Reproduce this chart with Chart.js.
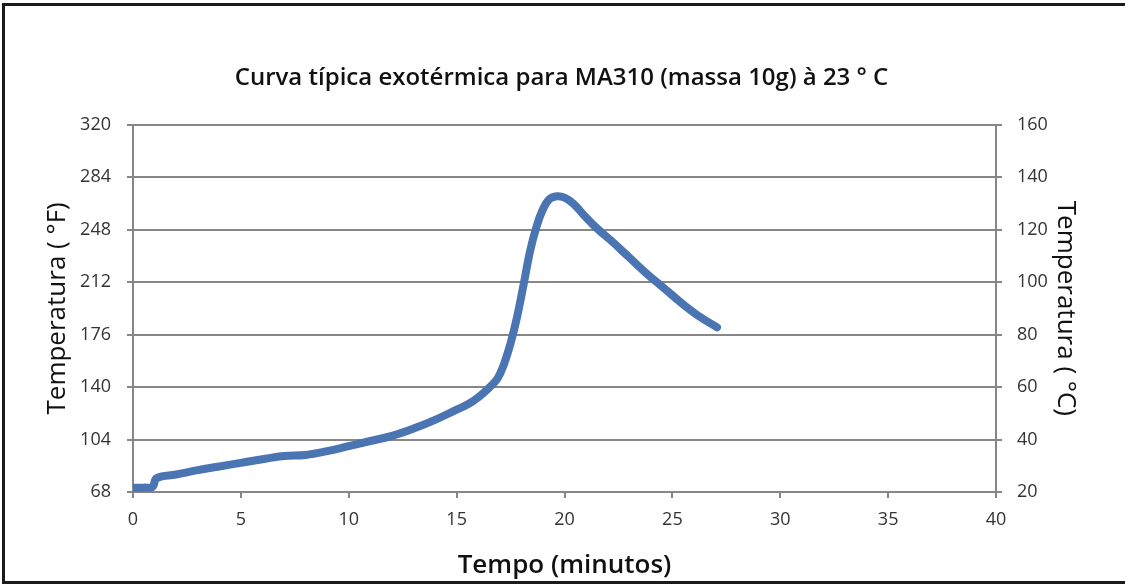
<!DOCTYPE html>
<html><head><meta charset="utf-8">
<script src="https://cdn.jsdelivr.net/npm/chart.js@4"></script>
<style>
html,body{margin:0;padding:0;background:#fff;}
#wrap{position:relative;width:1125px;height:587px;overflow:hidden;background:#fff;}
#frame{position:absolute;left:2px;top:3px;width:1140px;height:581px;border:3px solid #1b1b1b;box-sizing:border-box;pointer-events:none;}
canvas{position:absolute;left:0;top:0;}
</style></head><body>
<div id="wrap"><canvas id="c" width="1125" height="587"></canvas><div id="frame"></div></div>
<script>
// Data
const timeMin = [0, 0.5, 0.9, 1.1, 2, 3, 4, 5, 6, 7, 8, 9, 10, 11, 12, 13, 14, 15, 15.5, 16, 16.5, 16.9, 17.2, 17.5, 17.8, 18.1, 18.4, 18.7, 19.0, 19.3, 19.65, 20.0, 20.4, 20.9, 21.5, 22.2, 23.0, 23.8, 24.6, 25.4, 26.2, 27.07];
const tempF   = [71, 71, 71.5, 77.5, 80, 83, 85.5, 88, 90.5, 92.7, 93.4, 96, 99.5, 103, 106.5, 111.5, 117.5, 124.5, 128, 133, 139.5, 146, 156, 170, 188, 210, 233, 250, 262, 269, 271, 270, 266, 258, 249, 240, 229, 218, 208, 198, 189, 181];
const xTicks  = [0, 5, 10, 15, 20, 25, 30, 35, 40];
const fTicks  = [68, 104, 140, 176, 212, 248, 284, 320];
const cTicks  = [20, 40, 60, 80, 100, 120, 140, 160];

const points = timeMin.map((t, i) => ({x: t, y: tempF[i]}));
const gridCol = '#878787';
const tickFont = {family: 'Open Sans', size: 18};

new Chart(document.getElementById('c'), {
  type: 'line',
  data: {
    datasets: [{
      data: points,
      borderColor: '#4a74b2',
      borderWidth: 8,
      pointRadius: 0,
      tension: 0.4,
      borderCapStyle: 'round',
      borderJoinStyle: 'round',
      fill: false,
      yAxisID: 'y'
    }]
  },
  options: {
    responsive: false,
    animation: false,
    events: [],
    layout: {padding: {left: 38, right: 40, top: 0, bottom: 4}},
    plugins: {
      legend: {display: false},
      tooltip: {enabled: false},
      title: {
        display: true,
        text: 'Curva típica exotérmica para MA310 (massa 10g) à 23 ° C',
        color: '#111',
        font: {family: 'Open Sans', size: 24, weight: '600'},
        padding: {top: 64, bottom: 32}
      }
    },
    scales: {
      x: {
        type: 'linear', position: 'bottom', min: 0, max: 40,
        afterBuildTicks: s => { s.ticks = xTicks.map(v => ({value: v})); },
        afterFit: s => { s.height = 587 - 4 - 492; },
        grid: {drawOnChartArea: false, drawTicks: true, tickLength: 6, color: gridCol, lineWidth: 2},
        border: {display: true, color: gridCol, width: 2},
        ticks: {padding: 11, font: tickFont, color: '#333'},
        title: {display: true, text: 'Tempo (minutos)', color: '#111',
                font: {family: 'Open Sans', size: 26, weight: '600'}, padding: {top: 0, bottom: 2}}
      },
      y: {
        type: 'linear', position: 'left', min: 68, max: 320,
        afterBuildTicks: s => { s.ticks = fTicks.map(v => ({value: v})); },
        afterFit: s => { s.width = 133 - 38; },
        grid: {drawOnChartArea: true, drawTicks: true, tickLength: 6, color: gridCol, lineWidth: 2},
        border: {display: true, color: gridCol, width: 2},
        ticks: {padding: 16, font: tickFont, color: '#333'},
        title: {display: true, text: 'Temperatura ( °F)', color: '#111',
                font: {family: 'Open Sans', size: 26, weight: '400'}, padding: {top: 4, bottom: 0}}
      },
      y2: {
        type: 'linear', position: 'right', min: 20, max: 160,
        afterBuildTicks: s => { s.ticks = cTicks.map(v => ({value: v})); },
        afterFit: s => { s.width = 1125 - 40 - 996; },
        grid: {drawOnChartArea: false, drawTicks: true, tickLength: 6, color: gridCol, lineWidth: 2},
        border: {display: true, color: gridCol, width: 2},
        ticks: {padding: 15, font: tickFont, color: '#333'},
        title: {display: true, text: 'Temperatura ( °C)', color: '#111',
                font: {family: 'Open Sans', size: 26, weight: '400'}, padding: {top: 4, bottom: 0}}
      }
    }
  }
});
</script>
</body></html>
